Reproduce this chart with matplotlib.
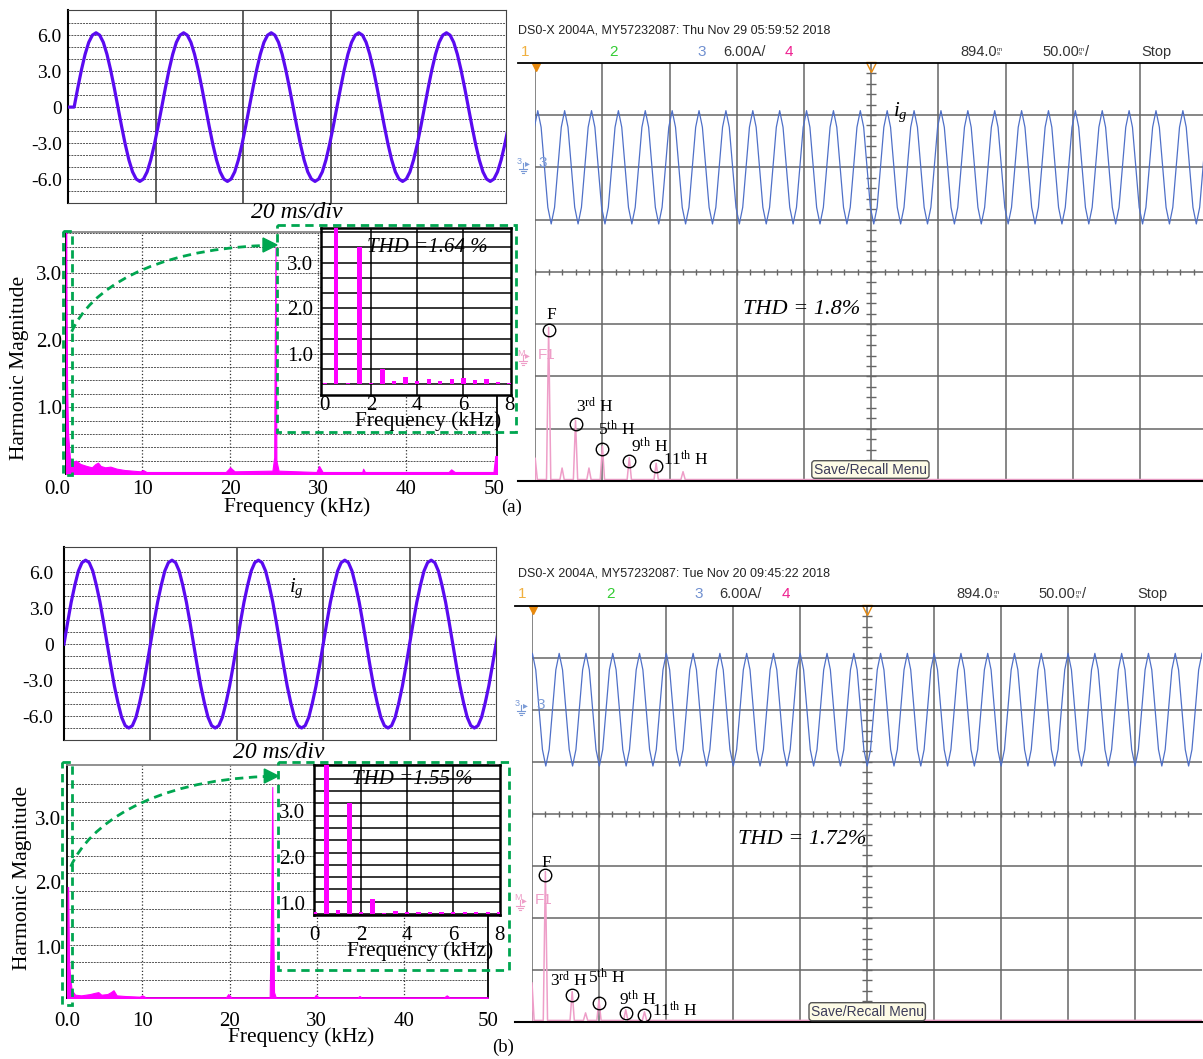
"""
Grid current i_g for two cases (a) and (b):
simulated waveform + FFT on the left, scope capture on the right.
"""
import numpy as np
import matplotlib
matplotlib.use('Agg')
import matplotlib.pyplot as plt
from matplotlib.patches import Rectangle, Polygon, FancyBboxPatch, PathPatch
from matplotlib.path import Path
import matplotlib.transforms as mtransforms

W, H = 1203, 1059

plt.rcParams['font.family'] = ['Liberation Serif', 'DejaVu Serif']
plt.rcParams['mathtext.fontset'] = 'custom'
plt.rcParams['mathtext.rm'] = 'Liberation Serif'
plt.rcParams['mathtext.it'] = 'Liberation Serif:italic'
SANS_N = ['Liberation Sans Narrow', 'Liberation Sans', 'DejaVu Sans']

# ---------------- data ----------------
# simulated i_g (A), one 20 ms cycle read every 20/24 ms
wave_step_ms = 20 / 24
wave_cycle_a = [0.0, 1.6, 3.1, 4.4, 5.4, 6.0, 6.2, 6.0, 5.4, 4.4, 3.1, 1.6,
                0.0, -1.6, -3.1, -4.4, -5.4, -6.0, -6.2, -6.0, -5.4, -4.4, -3.1, -1.6]
wave_cycle_b = [0.0, 1.8, 3.5, 4.9, 6.1, 6.8, 7.0, 6.8, 6.1, 4.9, 3.5, 1.8,
                0.0, -1.8, -3.5, -4.9, -6.1, -6.8, -7.0, -6.8, -6.1, -4.9, -3.5, -1.8]
wave_lag_a = 1.4
wave_lag_b = 0.0
wave_cycles = 5
wave_yticks = [6.0, 3.0, 0.0, -3.0, -6.0]
wave_ylabels = ['6.0', '3.0', '0', '-3.0', '-6.0']

# FFT of simulated i_g (kHz, harmonic magnitude)
spec_a_khz = [1.36, 1.40, 1.48, 1.60, 1.80, 2.0, 2.5, 3.0, 3.7, 4.3, 4.7, 5.0, 5.3, 5.8, 6.4,
              7.1, 8.0, 9.8, 10.1, 10.5, 19.5, 20.0, 20.5, 24.8, 25.0, 25.05, 25.15, 25.25, 25.5,
              29.8, 30.1, 30.5, 35.0, 35.1, 35.3, 44.8, 45.1, 45.5, 49.9, 50.1, 50.3]
spec_a_mag = [5.0, 2.9, 1.34, 0.59, 0.25, 0.18, 0.2, 0.15, 0.12, 0.1, 0.15, 0.17, 0.12, 0.1, 0.11,
              0.08, 0.06, 0.04, 0.06, 0.03, 0.03, 0.1, 0.04, 0.05, 0.25, 1.7, 3.39, 0.2, 0.05,
              0.03, 0.12, 0.03, 0.03, 0.08, 0.03, 0.03, 0.07, 0.03, 0.03, 0.27, 0.27]
spec_b_khz = [1.37, 1.45, 1.50, 1.60, 1.72, 1.91, 2.3, 3.0, 4.0, 4.6, 4.96, 5.3, 6.0, 6.4, 6.7,
              7.06, 8.0, 9.7, 10.0, 10.4, 19.6, 19.85, 20.2, 24.6, 24.8, 24.9, 25.0, 25.1, 25.3,
              29.7, 29.9, 30.2, 34.7, 34.9, 35.1, 44.6, 44.9, 45.2, 49.6]
spec_b_mag = [0.22, 1.93, 1.93, 0.8, 0.54, 0.33, 0.26, 0.25, 0.27, 0.29, 0.3, 0.26, 0.27, 0.3, 0.33,
              0.25, 0.24, 0.23, 0.25, 0.22, 0.22, 0.27, 0.22, 0.22, 1.88, 3.48, 1.5, 0.3, 0.22,
              0.22, 0.26, 0.22, 0.22, 0.24, 0.22, 0.22, 0.25, 0.22, 0.22]

# zoomed harmonic bars (inset)
inset_khz = [0.0, 0.5, 1.0, 1.5, 2.0, 2.5, 3.0, 3.5, 4.0, 4.5, 5.0, 5.5, 6.0, 6.5, 7.0, 7.5, 8.0]
inset_a_mag = [0.36, 4.5, 0.36, 3.34, 0.36, 0.68, 0.41, 0.49, 0.41, 0.44, 0.41, 0.44, 0.47, 0.43, 0.44, 0.39, 0.37]
inset_b_mag = [0.81, 4.5, 0.85, 3.17, 0.81, 1.09, 0.80, 0.83, 0.81, 0.81, 0.81, 0.81, 0.81, 0.81, 0.81, 0.81, 0.81]
inset_a_base = 1 / 3
inset_b_base = 0.775
thd_sim = ['THD =1.64 %', 'THD =1.55 %']

# scope: measured i_g, one cycle read every 2.5 ms (A)
scope_step_ms = 2.5
scope_cycle = [0.0, 4.6, 6.5, 4.6, 0.0, -4.6, -6.5, -4.6]
scope_lag_a = -3.1
scope_lag_b = -4.7
# scope FFT (Hz, dB)
scope_a_hz = [0, 50, 100, 150, 200, 250, 350, 450, 550]
scope_a_db = [-11.6, 13.4, -13.5, -4.4, -13.5, -9.3, -11.5, -12.6, -14.2]
scope_a_floor = -15.7
scope_b_hz = [0, 50, 150, 200, 250, 350, 420]
scope_b_db = [-8.5, 12.9, -10.2, -14.3, -11.8, -13.7, -14.1]
scope_b_floor = -15.75
harm_hz_a = [50, 150, 250, 350, 450]
harm_hz_b = [50, 150, 250, 350, 420]
harm_names = ['F', r'3$^{\rm rd}$ H', r'5$^{\rm th}$ H', r'9$^{\rm th}$ H', r'11$^{\rm th}$ H']
thd_meas = ['THD = 1.8%', 'THD = 1.72%']
stamps = ['DS0-X 2004A, MY57232087: Thu Nov 29 05:59:52 2018',
          'DS0-X 2004A, MY57232087: Tue Nov 20 09:45:22 2018']

# ---------------- style ----------------
WAVE = '#5a0af0'
MAG = '#ff00ff'
GREEN = '#00a650'
GRAT = '#666666'
TRACE = '#4f70c8'
PINK = '#ee9ec8'
SCOPE_MS_DIV, SCOPE_A_DIV = 50.0, 6.0
TRACE_OFFSET_A = 12.0
SPEC_HZ_DIV, DB_REF, DB_DIV = 250.0, 24.0, 10.0
SPIKE_HZ = 8.0

fig = plt.figure(figsize=(W / 100, H / 100), dpi=100)
ov = fig.add_axes([0, 0, 1, 1], zorder=20)
ov.set_xlim(0, W)
ov.set_ylim(H, 0)
ov.axis('off')


def px_axes(x0, y0, x1, y1):
    return fig.add_axes([x0 / W, 1 - y1 / H, (x1 - x0) / W, (y1 - y0) / H])


def wave_panel(box, cycle, lag, pad):
    ax = px_axes(*box)
    vals = np.tile(cycle, wave_cycles + 1)
    t = lag + wave_step_ms * np.arange(len(vals))
    if lag > 0:
        t, vals = np.r_[0.0, t], np.r_[0.0, vals]
    ax.plot(t, vals, color=WAVE, lw=2.3, zorder=3, solid_joinstyle='round')
    ax.set_xlim(0, 100)
    ax.set_ylim(-8.0, 8.1)
    for v in range(-7, 8):
        ax.axhline(v, color='#555555', lw=0.7, ls=(0, (2, 1)), zorder=1)
    for x in [20, 40, 60, 80]:
        ax.axvline(x, color='#333333', lw=1.1, zorder=1)
    ax.set_xticks([])
    ax.set_yticks(wave_yticks, wave_ylabels)
    ax.tick_params(length=0, labelsize=14, pad=pad)
    for s in ax.spines.values():
        s.set_color('#444444')
    ax.spines['left'].set_color('black')
    ax.spines['left'].set_linewidth(1.5)
    return ax


def spec_panel(box, f, mag, xlim, ylim, hgrid, pads, zero_shift):
    ax = px_axes(*box)
    ax.fill_between(f, 0, mag, color=MAG, lw=0.8, zorder=3)
    ax.set_xlim(*xlim)
    ax.set_ylim(*ylim)
    for v in hgrid:
        ax.axhline(v, color='#555555', lw=0.7, ls=(0, (2, 1)), zorder=1)
    for x in [10, 20, 30, 40]:
        ax.axvline(x, color='#333333', lw=0.9, ls=':', zorder=1)
    ax.set_xticks([xlim[0], 10, 20, 30, 40, min(50, xlim[1])], ['0.0', '10', '20', '30', '40', '50'])
    ax.set_yticks([1, 2, 3], ['1.0', '2.0', '3.0'])
    ax.tick_params(axis='x', length=0, labelsize=15, pad=pads[0])
    ax.tick_params(axis='y', length=0, labelsize=15, pad=pads[1])
    lbl = ax.get_xticklabels()[0]
    lbl.set_transform(lbl.get_transform() + mtransforms.ScaledTranslation(zero_shift / 100, 0, fig.dpi_scale_trans))
    for s in ax.spines.values():
        s.set_color('black')
        s.set_linewidth(1.3)
    ax.spines['top'].set_color('#888888')
    return ax


def inset_panel(box, mag, base, xlim, ylim, hgrid, pads):
    ax = px_axes(*box)
    ax.bar(inset_khz, np.array(mag) - base, bottom=base, width=0.19, color=MAG, zorder=3)
    ax.set_xlim(*xlim)
    ax.set_ylim(*ylim)
    for v in hgrid:
        ax.axhline(v, color='black', lw=1.1, zorder=1)
    for x in [2, 4, 6]:
        ax.axvline(x, color='black', lw=1.1, zorder=1)
    ax.set_xticks([0, 2, 4, 6, 8])
    ax.set_yticks([1, 2, 3], ['1.0', '2.0', '3.0'])
    ax.tick_params(axis='x', length=0, labelsize=15, pad=pads[0])
    ax.tick_params(axis='y', length=0, labelsize=15, pad=pads[1])
    for s in ax.spines.values():
        s.set_linewidth(1.8)
    return ax


def scope_panel(left, top, dw, dh, lag, sp_hz, sp_db, floor_db, harm_hz, lbl_off):
    box = (left, top, left + 10 * dw, top + 8 * dh)
    sc = px_axes(*box)
    sc.set_xlim(0, 10 * SCOPE_MS_DIV)
    sc.set_ylim(-4 * SCOPE_A_DIV, 4 * SCOPE_A_DIV)
    sc.axis('off')
    for k in range(10):
        sc.axvline(k * SCOPE_MS_DIV, color=GRAT, lw=1.1, zorder=1)
    for k in range(1, 8):
        sc.axhline((k - 4) * SCOPE_A_DIV, color=GRAT, lw=1.1, zorder=1)
    tx = np.arange(0, 10 * SCOPE_MS_DIV, SCOPE_MS_DIV / 5)
    ty = np.arange(-4 * SCOPE_A_DIV, 4 * SCOPE_A_DIV, SCOPE_A_DIV / 5)
    sc.plot(tx, np.zeros_like(tx), ls='none', marker='|', ms=5, mew=1, color=GRAT)
    sc.plot(np.full_like(ty, 5 * SCOPE_MS_DIV), ty, ls='none', marker='_', ms=7, mew=1, color=GRAT)
    n = int(np.ceil((10 * SCOPE_MS_DIV - lag) / scope_step_ms)) + 1
    vals = np.resize(scope_cycle, n)
    t = lag + scope_step_ms * np.arange(n)
    sc.plot(t, vals + TRACE_OFFSET_A, color=TRACE, lw=0.9, zorder=3)
    sc.plot([0.6], [4 * SCOPE_A_DIV - 0.5], marker='v', ms=6, color='#e8890c', clip_on=False)
    sc.plot([5 * SCOPE_MS_DIV], [4 * SCOPE_A_DIV - 0.5], marker='v', ms=7, mfc='none', mec='#e8890c',
            clip_on=False)

    sp = px_axes(*box)
    sp.axis('off')
    sp.set_xlim(0, 10 * SPEC_HZ_DIV)
    sp.set_ylim(DB_REF - 4 * DB_DIV, DB_REF + 4 * DB_DIV)
    xs, ys = [0.0], [floor_db]
    for f, d in zip(sp_hz, sp_db):
        if f - SPIKE_HZ > 0:
            xs.append(f - SPIKE_HZ)
            ys.append(floor_db)
        xs += [f, f + SPIKE_HZ]
        ys += [d, floor_db]
    xs.append(10 * SPEC_HZ_DIV)
    ys.append(floor_db)
    sp.plot(xs, ys, color=PINK, lw=1.1, zorder=3)
    for f, name, (dx, dy, ha) in zip(harm_hz, harm_names, lbl_off):
        d = sp_db[sp_hz.index(f)] - 0.6
        sp.plot([f], [d], 'o', mfc='none', mec='black', ms=9, mew=1, zorder=4)
        sp.annotate(name, (f, d), xytext=(dx * 0.72, -dy * 0.72), textcoords='offset points',
                    ha=ha, va='center', fontsize=12.5, zorder=5)
    return sc


# ---------------- left column ----------------
wave_panel((68, 10, 506, 203), wave_cycle_a, wave_lag_a, 4.5)
wave_panel((64, 547, 496, 740), wave_cycle_b, wave_lag_b, 7.5)

spec_panel((66, 232, 497, 474), spec_a_khz, spec_a_mag, (1.36, 50.3), (0, 3.62),
           np.arange(0.2, 3.61, 0.2), (4.5, 3), -9)
spec_panel((67, 765, 488, 998), spec_b_khz, spec_b_mag, (1.37, 49.63), (0.209, 3.82),
           0.209 + 0.276 * np.arange(1, 13), (10, 4.5), 0)

inset_panel((321, 228, 511, 395), inset_a_mag, inset_a_base, (-0.16, 8.06), (0.10, 3.76),
            np.arange(1, 12) / 3, (0.5, 5.5))
inset_panel((314, 765, 500, 915), inset_b_mag, inset_b_base, (-0.04, 8.03), (0.75, 3.99),
            inset_b_base + 0.265 * np.arange(0, 12), (8, 6.5))

# ---------------- right column ----------------
scope_panel(535.2, 62.7, 67.2, 52.3, scope_lag_a, scope_a_hz, scope_a_db, scope_a_floor, harm_hz_a,
            [(3, -15.6, 'center'), (0, -16.7, 'left'), (-4, -19, 'left'), (2, -14, 'left'), (6.7, -6.6, 'left')])
scope_panel(532, 605.7, 66.96, 52.0, scope_lag_b, scope_b_hz, scope_b_db, scope_b_floor, harm_hz_b,
            [(1, -12, 'center'), (-22.5, -14, 'left'), (-10.6, -25, 'left'), (-7.2, -13.3, 'left'), (7.9, -4.3, 'left')])

# ---------------- overlay: labels, boxes, arrows ----------------
ov.text(297, 213, '20 ms/div', fontsize=17, style='italic', ha='center', va='center')
ov.text(279, 752, '20 ms/div', fontsize=17, style='italic', ha='center', va='center')
ov.text(296, 588, r'$i_g$', fontsize=15, ha='center', va='center')
ov.text(900, 112, r'$i_g$', fontsize=15, ha='center', va='center')

ov.text(20, 368, 'Harmonic Magnitude', fontsize=15.5, rotation=90, ha='center', va='center')
ov.text(23, 878, 'Harmonic Magnitude', fontsize=15.5, rotation=90, ha='center', va='center')
ov.text(297, 507, 'Frequency (kHz)', fontsize=15.5, ha='center', va='center')
ov.text(301, 1037, 'Frequency (kHz)', fontsize=15.5, ha='center', va='center')
ov.text(428, 421, 'Frequency (kHz)', fontsize=15.5, ha='center', va='center')
ov.text(420, 951, 'Frequency (kHz)', fontsize=15.5, ha='center', va='center')
ov.text(367, 247, thd_sim[0], fontsize=15, style='italic', ha='left', va='center')
ov.text(352, 780, thd_sim[1], fontsize=15, style='italic', ha='left', va='center')
ov.text(512, 507, '(a)', fontsize=13.5, ha='center', va='center')
ov.text(503, 1047, '(b)', fontsize=13.5, ha='center', va='center')

for (x0, y0, x1, y1) in [(63.3, 231, 71.7, 475), (276.7, 225, 516, 431.7),
                         (62.3, 761.7, 71.7, 1005), (277.7, 761.7, 509, 970)]:
    ov.add_patch(Rectangle((x0, y0), x1 - x0, y1 - y0, fill=False, ec=GREEN, lw=2, ls=(0, (3, 2))))

for p0, c1, c2, tip in [((71.7, 331.7), (90, 290), (150, 250), (277, 245)),
                        ((70.7, 866.7), (89, 825), (150, 781), (278.3, 776))]:
    end = (tip[0] - 13, tip[1] + 0.5)
    ov.add_patch(PathPatch(Path([p0, c1, c2, end], [Path.MOVETO, Path.CURVE4, Path.CURVE4, Path.CURVE4]),
                           fill=False, ec=GREEN, lw=2, ls=(0, (3, 2))))
    ov.add_patch(Polygon([(tip[0] - 14, tip[1] - 7), (tip[0] - 14, tip[1] + 7), tip], color=GREEN))

# scope header rows
for k, (hy, ry, base_x) in enumerate([(30.7, 51.7, 0), (573.3, 594.3, -3.5)]):
    ov.text(518, hy, stamps[k], family=SANS_N, fontsize=9, color='#222222', va='center')
    ov.text(525.5 + base_x, ry, '1', family=SANS_N, fontsize=11, color='#f0b040', ha='center', va='center')
    ov.text(613.8 + base_x, ry, '2', family=SANS_N, fontsize=11, color='#33cc33', ha='center', va='center')
    ov.text(702 + base_x, ry, '3', family=SANS_N, fontsize=11, color='#7090d0', ha='center', va='center')
    ov.text(723 + base_x, ry, '6.00A/', family=SANS_N, fontsize=10.5, color='#333333', va='center')
    ov.text(789 + base_x, ry, '4', family=SANS_N, fontsize=11, color='#ee2090', ha='center', va='center')
    ov.text(960 + base_x, ry, '894.0', family=SANS_N, fontsize=10.5, color='#333333', va='center')
    ov.text(997 + base_x, ry, 'm\ns', family=SANS_N, fontsize=4.5, color='#333333', va='center',
            linespacing=0.85)
    ov.text(1042 + base_x, ry, '50.00', family=SANS_N, fontsize=10.5, color='#333333', va='center')
    ov.text(1079 + base_x, ry, 'm\ns', family=SANS_N, fontsize=4.5, color='#333333', va='center',
            linespacing=0.85)
    ov.text(1085 + base_x, ry, '/', family=SANS_N, fontsize=10.5, color='#333333', va='center')
    ov.text(1141 + base_x, ry, 'Stop', family=SANS_N, fontsize=10.5, color='#333333', va='center')

ov.plot([518, W], [62.7, 62.7], color='black', lw=1.3)
ov.plot([518, W], [481, 481], color='black', lw=1.5)
ov.plot([515, W], [605.7, 605.7], color='black', lw=1.3)
ov.plot([515, W], [1021.7, 1021.7], color='black', lw=1.5)

# channel / math markers at the left of the graticule
for x0, y, txt, col in [(517, 163, '3', '#7a9ad6'), (515, 705, '3', '#7a9ad6'),
                        (517, 355, 'M', PINK), (514, 900, 'M', PINK)]:
    ov.text(x0, y - 2, txt, family=SANS_N, fontsize=6.5, color=col, va='center')
    ov.text(x0 + 8, y, '\u25b8', family=['DejaVu Sans'], fontsize=7, color=col, va='center')
    ov.plot([x0 + 6, x0 + 6], [y, y + 6], color=col, lw=0.8)
    for i, hw in enumerate([4, 2.5, 1]):
        ov.plot([x0 + 6 - hw, x0 + 6 + hw], [y + 6 + 2 * i, y + 6 + 2 * i], color=col, lw=0.8)
    ov.text(x0 + 21, y, '3' if txt == '3' else 'F1', family=SANS_N, fontsize=11, color=col, va='center')

ov.text(743, 309, thd_meas[0], fontsize=16, style='italic', va='center')
ov.text(737.6, 839, thd_meas[1], fontsize=16, style='italic', va='center')

for (x0, y0, x1, y1) in [(811.8, 460.7, 929, 478.3), (809, 1002.7, 925.4, 1020.7)]:
    ov.add_patch(FancyBboxPatch((x0, y0), x1 - x0, y1 - y0, boxstyle='round,pad=0,rounding_size=3',
                                fc='#fdfbe6', ec='#555555', lw=1, zorder=6))
    ov.text((x0 + x1) / 2, (y0 + y1) / 2 + 0.5, 'Save/Recall Menu', family=SANS_N, fontsize=10,
            color='#3c3c5a', ha='center', va='center', zorder=7)

fig.savefig('out.png', dpi=100)
